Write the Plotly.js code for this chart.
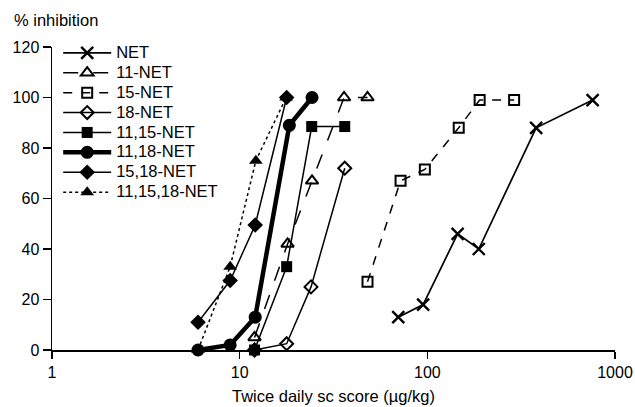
<!DOCTYPE html>
<html>
<head>
<meta charset="utf-8">
<script src="https://cdn.plot.ly/plotly-3.0.1.min.js"></script>
<style>html,body{margin:0;padding:0;background:#fff;}#chart{width:635px;height:407px;}</style>
</head>
<body>
<div id="chart"></div>
<script>
const names = ["NET","11-NET","15-NET","18-NET","11,15-NET","11,18-NET","15,18-NET","11,15,18-NET"];

const netX = [70, 95, 145, 188, 380, 760];
const netY = [13, 18, 46, 40, 88, 99];

const n11X = [12, 18, 24.3, 36, 48];
const n11Y = [5, 42, 67, 100, 100];

const n15X = [48, 72, 97, 147, 190, 290];
const n15Y = [27, 67, 71.5, 88, 99, 99];

const n18X = [12, 17.8, 24, 36.3];
const n18Y = [0, 2.5, 25, 72];

const n1115X = [12, 17.8, 24.2, 36.3];
const n1115Y = [0, 33, 88.5, 88.5];

const n1118X = [6, 8.9, 12.1, 18.4, 24.3];
const n1118Y = [0, 2, 13, 89, 100];

const n1518X = [6, 8.9, 12.1, 17.8];
const n1518Y = [11, 27.5, 49.5, 100];

const n111518X = [6, 8.9, 12.2, 17.7];
const n111518Y = [0, 33, 75, 100];

const xs = [netX, n11X, n15X, n18X, n1115X, n1118X, n1518X, n111518X];
const ys = [netY, n11Y, n15Y, n18Y, n1115Y, n1118Y, n1518Y, n111518Y];
const symbols = ["x-thin-open","triangle-up-open","square-open","diamond-open","square","circle","diamond","triangle-up"];
const dashes = ["solid","longdash","dash","solid","solid","solid","solid","dot"];
const widths = [1.7, 1.5, 1.5, 1.5, 1.5, 4.5, 1.5, 1.5];
const sizes = [12, 11, 10, 10, 11, 13, 12, 12];
const mlw = [2.4, 2, 2, 2, 0, 0, 0, 0];

const traces = names.map((n, i) => ({
  type: "scatter",
  mode: "lines+markers",
  name: n,
  x: xs[i],
  y: ys[i],
  cliponaxis: false,
  line: {color: "#000", width: widths[i], dash: dashes[i]},
  marker: {symbol: symbols[i], size: sizes[i], color: "#000", line: {color: "#000", width: mlw[i]}}
}));

const fam = "Liberation Sans, Arial, sans-serif";
const font = {family: fam, size: 16.5, color: "#000"};
const tickFont = {family: fam, size: 16, color: "#000"};

const layout = {
  width: 635, height: 407,
  margin: {l: 52, r: 20, t: 47, b: 57, pad: 0},
  paper_bgcolor: "#fff", plot_bgcolor: "#fff",
  font: font,
  showlegend: true,
  legend: {x: 0.011, y: 1.03, xanchor: "left", yanchor: "top", bgcolor: "rgba(0,0,0,0)",
           font: {family: fam, size: 13, color: "#000"}, itemwidth: 48, tracegroupgap: 0},
  xaxis: {
    type: "log", range: [0, 3],
    tickvals: [1, 10, 100, 1000], ticktext: ["1", "10", "100", "1000"],
    tickfont: tickFont,
    showgrid: false, zeroline: false, showline: true, linecolor: "#000", linewidth: 1.5,
    ticks: "outside", ticklen: 7, tickwidth: 1.5, tickcolor: "#000",
    title: {text: "Twice daily sc score (µg/kg)", font: font, standoff: 10}
  },
  yaxis: {
    range: [0, 120], tickvals: [0, 20, 40, 60, 80, 100, 120],
    tickfont: tickFont,
    showgrid: false, zeroline: false, showline: true, linecolor: "#000", linewidth: 1.5,
    ticks: "outside", ticklen: 8, tickwidth: 1.5, tickcolor: "#000"
  },
  annotations: [{
    text: "% inhibition", xref: "paper", yref: "paper", x: -0.071, y: 1.0, yshift: 27,
    xanchor: "left", yanchor: "middle", showarrow: false, font: font
  }]
};

Plotly.newPlot("chart", traces, layout, {displayModeBar: false, staticPlot: true}).then(gd => {
  gd.querySelectorAll(".legend [clip-path]").forEach(e => e.removeAttribute("clip-path"));
  gd.querySelectorAll(".legendtext").forEach(t => { t.style.fontSize = "16.5px"; });
});
</script>
</body>
</html>
